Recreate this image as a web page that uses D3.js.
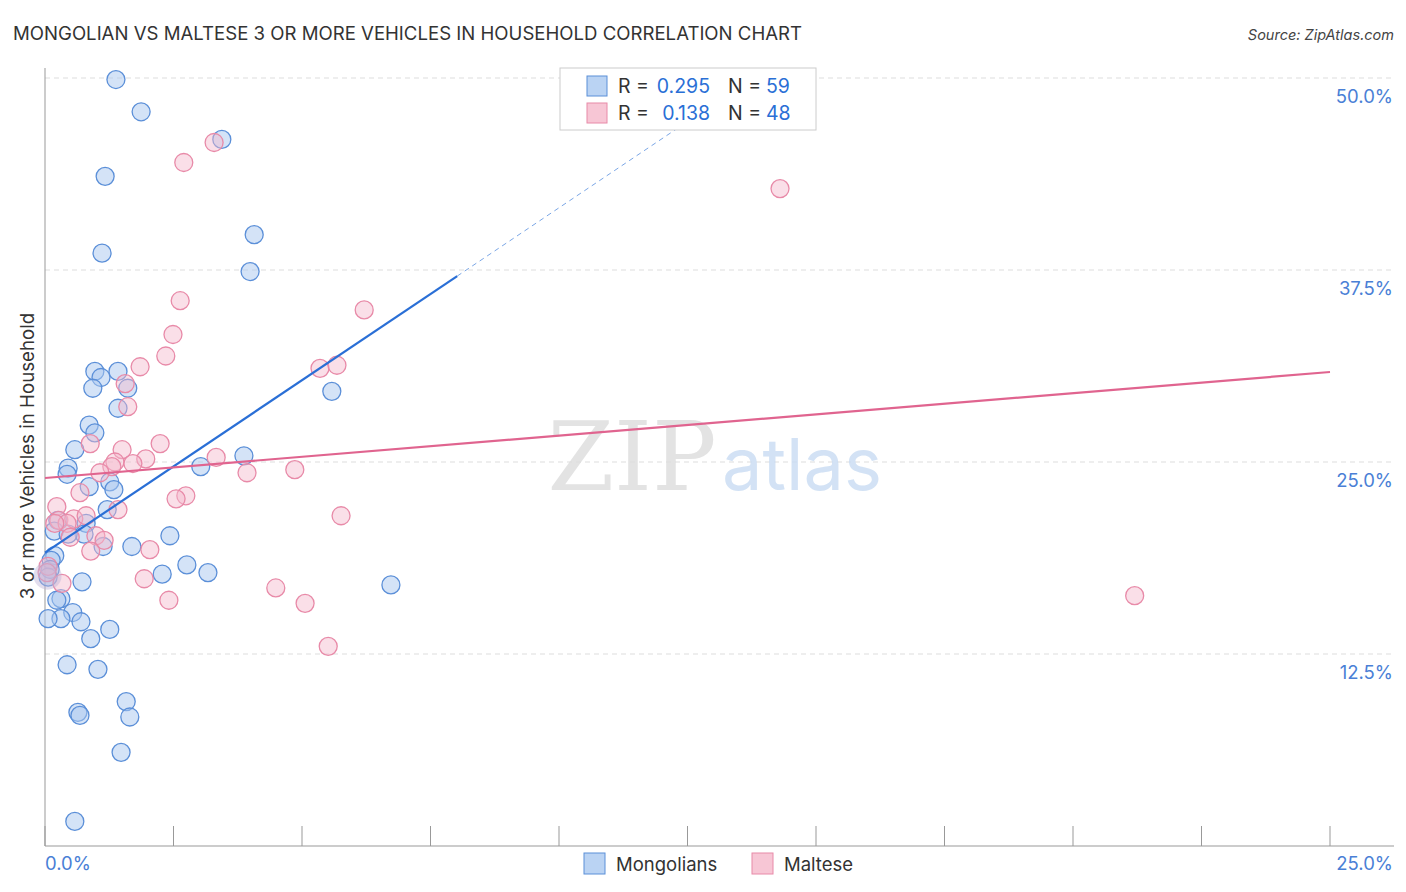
<!DOCTYPE html>
<html><head><meta charset="utf-8">
<script src="https://cdn.jsdelivr.net/npm/d3@7"></script>
<style>body{margin:0;background:#fff;font-family:Inter,sans-serif}</style>
</head><body><svg id="c" width="1406" height="892" font-family="Inter,sans-serif"></svg>
<script>
const mongolians = [[1.38,49.9],[1.87,47.8],[3.44,46.0],[1.17,43.6],[1.11,38.6],[4.07,39.8],[3.99,37.4],[0.97,30.9],[1.09,30.5],[1.42,30.9],[0.93,29.8],[1.61,29.8],[1.42,28.5],[5.58,29.6],[0.86,27.4],[0.97,26.9],[0.58,25.8],[3.87,25.4],[3.03,24.7],[0.45,24.6],[0.43,24.2],[0.86,23.4],[1.26,23.7],[1.34,23.2],[1.21,21.9],[0.25,21.2],[0.80,21.0],[0.76,20.3],[0.18,20.5],[0.45,20.3],[1.69,19.5],[1.13,19.5],[2.43,20.2],[0.19,18.9],[0.12,18.6],[0.10,18.0],[0.06,17.5],[0.72,17.2],[2.28,17.7],[2.76,18.3],[3.17,17.8],[6.73,17.0],[0.31,16.1],[0.23,16.0],[0.54,15.2],[0.31,14.8],[0.06,14.8],[0.70,14.6],[1.26,14.1],[0.89,13.5],[0.43,11.8],[1.03,11.5],[1.58,9.4],[0.64,8.7],[0.68,8.5],[1.65,8.4],[1.48,6.1],[0.58,1.6]];
const maltese = [[3.29,45.8],[2.70,44.5],[14.30,42.8],[2.63,35.5],[6.21,34.9],[2.49,33.3],[2.35,31.9],[1.85,31.2],[5.35,31.1],[5.68,31.3],[1.56,30.1],[1.61,28.6],[0.88,26.2],[2.24,26.2],[1.50,25.8],[1.96,25.2],[1.36,25.0],[1.30,24.7],[1.71,24.9],[3.33,25.3],[1.07,24.3],[3.93,24.3],[4.86,24.5],[0.68,23.0],[2.74,22.8],[2.55,22.6],[0.23,22.1],[0.27,21.2],[0.56,21.3],[0.43,21.0],[1.42,21.9],[5.76,21.5],[0.49,20.1],[0.99,20.2],[1.15,19.9],[0.89,19.2],[2.04,19.3],[0.06,18.2],[0.33,17.1],[1.93,17.4],[4.49,16.8],[5.06,15.8],[2.41,16.0],[21.2,16.3],[5.51,13.0],[0.19,21.0],[0.04,17.8],[0.80,21.5]];
const blueTrend = {a:19.1, b:2.245, solidEnd:8.02};
const pinkTrend = {a:23.96, b:0.276};
const yTicks = [12.5,25.0,37.5,50.0];
const xTicks = [0,2.5,5,7.5,10,12.5,15,17.5,20,22.5,25];

const svg = d3.select("#c");
const x = d3.scaleLinear().domain([0,25]).range([45,1330]);
const y = d3.scaleLinear().domain([0,50]).range([846,78]);
const blue="#5b8fd8", blueFill="rgba(169,200,240,0.5)", pink="#e88aa8", pinkFill="rgba(245,184,203,0.45)";

svg.append("text").attr("x",13).attr("y",40).attr("font-size",18.6).attr("fill","#333").text("MONGOLIAN VS MALTESE 3 OR MORE VEHICLES IN HOUSEHOLD CORRELATION CHART");
svg.append("text").attr("x",1394).attr("y",40).attr("text-anchor","end").attr("font-size",14.5).attr("font-style","italic").attr("fill","#444").text("Source: ZipAtlas.com");

yTicks.forEach(t=>{
  svg.append("line").attr("x1",45).attr("x2",1394).attr("y1",y(t)).attr("y2",y(t)).attr("stroke","#ddd").attr("stroke-dasharray","5,4");
  svg.append("text").attr("x",1393).attr("y",y(t)+25).attr("text-anchor","end").attr("font-size",18.5).attr("fill","#4a7fd6").text(t.toFixed(1)+"%");
});
svg.append("line").attr("x1",45).attr("x2",45).attr("y1",68).attr("y2",846).attr("stroke","#999");
svg.append("line").attr("x1",45).attr("x2",1394).attr("y1",846).attr("y2",846).attr("stroke","#999");
xTicks.forEach(t=>svg.append("line").attr("x1",x(t)).attr("x2",x(t)).attr("y1",826).attr("y2",846).attr("stroke","#999"));
svg.append("text").attr("x",45).attr("y",870).attr("font-size",18.5).attr("fill","#4a7fd6").text("0.0%");
svg.append("text").attr("x",1393).attr("y",870).attr("text-anchor","end").attr("font-size",18.5).attr("fill","#4a7fd6").text("25.0%");
svg.append("text").attr("transform","translate(34,456) rotate(-90)").attr("text-anchor","middle").attr("font-size",18.7).attr("fill","#333").text("3 or more Vehicles in Household");

svg.append("text").attr("x",632).attr("y",490).attr("text-anchor","middle").attr("font-size",96).attr("font-family","DejaVu Serif,serif").attr("fill","#ddd").attr("opacity",0.8).text("ZIP");
svg.append("text").attr("x",802).attr("y",490).attr("text-anchor","middle").attr("font-size",72).attr("fill","#c9dcf3").attr("opacity",0.8).text("atlas");

function dots(data,st,fl){
  svg.append("g").selectAll("circle").data(data).join("circle")
   .attr("cx",d=>x(d[0])).attr("cy",d=>y(d[1])).attr("r",9)
   .attr("fill",fl).attr("stroke",st).attr("stroke-width",1.3);
}
dots(mongolians,blue,blueFill);
dots(maltese,pink,pinkFill);
svg.append("circle").attr("cx",x(0.05)).attr("cy",y(17.6)).attr("r",14).attr("fill","rgba(190,180,215,0.45)").attr("stroke","none");

svg.append("line").attr("x1",x(0)).attr("y1",y(blueTrend.a)).attr("x2",x(blueTrend.solidEnd)).attr("y2",y(blueTrend.a+blueTrend.b*blueTrend.solidEnd)).attr("stroke","#2a6fd6").attr("stroke-width",2.2);
const xe=(50.5-blueTrend.a)/blueTrend.b;
svg.append("line").attr("x1",x(blueTrend.solidEnd)).attr("y1",y(blueTrend.a+blueTrend.b*blueTrend.solidEnd)).attr("x2",x(xe)).attr("y2",y(50.5)).attr("stroke","#7aa6e6").attr("stroke-width",1).attr("stroke-dasharray","5,4");
svg.append("line").attr("x1",x(0)).attr("y1",y(pinkTrend.a)).attr("x2",x(25)).attr("y2",y(pinkTrend.a+pinkTrend.b*25)).attr("stroke","#e0648f").attr("stroke-width",2.2);

svg.append("rect").attr("x",560).attr("y",68).attr("width",256).attr("height",62).attr("fill","#fff").attr("stroke","#ccc");
[[0,"0.295","59",blue,"rgba(169,200,240,0.8)"],[1,"0.138","48",pink,"rgba(245,184,203,0.8)"]].forEach(([i,r,n,s,f])=>{
  const yy=86+i*27;
  svg.append("rect").attr("x",587).attr("y",yy-10).attr("width",20).attr("height",20).attr("fill",f).attr("stroke",s);
  svg.append("text").attr("x",618).attr("y",yy+7).attr("font-size",19.5).attr("fill","#333").text("R =");
  svg.append("text").attr("x",710).attr("y",yy+7).attr("text-anchor","end").attr("font-size",19.5).attr("fill","#2a6fd6").text(r);
  svg.append("text").attr("x",728).attr("y",yy+7).attr("font-size",19.5).attr("fill","#333").text("N =");
  svg.append("text").attr("x",766).attr("y",yy+7).attr("font-size",19.5).attr("fill","#2a6fd6").text(n);
});
[["Mongolians",584,blue,"rgba(169,200,240,0.8)"],["Maltese",752,pink,"rgba(245,184,203,0.8)"]].forEach(([t,xx,s,f])=>{
  svg.append("rect").attr("x",xx).attr("y",853).attr("width",21).attr("height",21).attr("fill",f).attr("stroke",s);
  svg.append("text").attr("x",xx+32).attr("y",871).attr("font-size",18.5).attr("fill","#333").text(t);
});
</script></body></html>
